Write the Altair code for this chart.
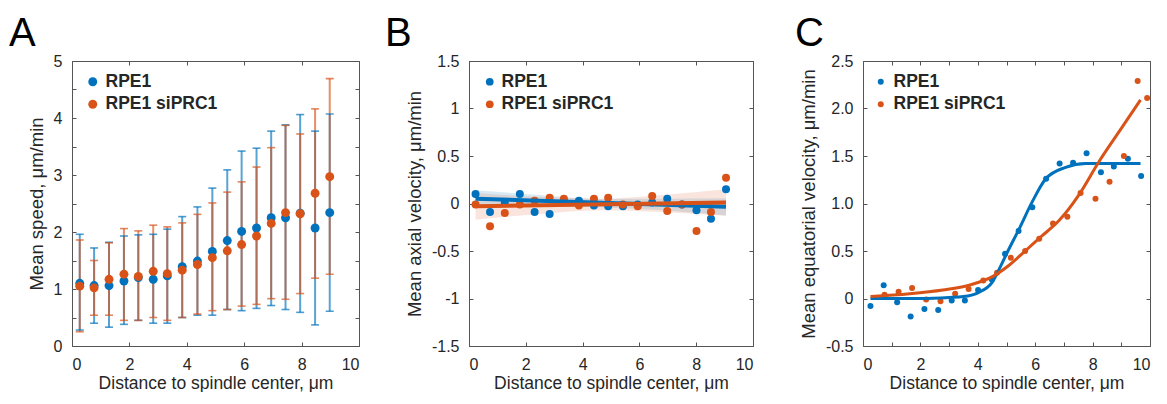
import altair as alt
import pandas as pd

SERIES = ["RPE1", "RPE1 siPRC1"]
COLORS = ["#0072BD", "#D95319"]
LETTERS = ["A", "B", "C"]
FONT = "Liberation Sans"
TXT = "#262626"
AXC = "#555555"
XTITLE = "Distance to spindle center, μm"

# ---------------- Panel A: mean speed with error bars ----------------
a_x = [0.27, 0.77, 1.29, 1.81, 2.31, 2.83, 3.32, 3.84, 4.37, 4.89, 5.41, 5.91,
       6.43, 6.94, 7.44, 7.95, 8.47, 8.98]
a_rpe1_mean = [1.10, 1.06, 1.06, 1.14, 1.20, 1.17, 1.23, 1.39, 1.49, 1.66, 1.85,
               2.01, 2.07, 2.25, 2.25, 2.33, 2.07, 2.34]
a_rpe1_lo = [0.28, 0.40, 0.33, 0.38, 0.45, 0.40, 0.40, 0.50, 0.54, 0.54, 0.64,
             0.62, 0.66, 0.71, 0.64, 0.59, 0.37, 0.61]
a_rpe1_hi = [1.96, 1.72, 1.82, 1.93, 1.95, 1.96, 2.05, 2.27, 2.44, 2.77, 3.09,
             3.42, 3.47, 3.77, 3.88, 4.06, 3.77, 4.07]
a_si_mean = [1.05, 1.02, 1.17, 1.26, 1.22, 1.31, 1.27, 1.33, 1.43, 1.55, 1.67,
             1.78, 1.93, 2.15, 2.34, 2.32, 2.68, 2.97]
a_si_lo = [0.25, 0.54, 0.54, 0.45, 0.45, 0.50, 0.45, 0.50, 0.56, 0.62, 0.64,
           0.70, 0.73, 0.83, 0.82, 0.92, 1.19, 1.26]
a_si_hi = [1.86, 1.50, 1.81, 2.06, 2.02, 2.12, 2.09, 2.16, 2.31, 2.51, 2.70,
           2.88, 3.14, 3.48, 3.87, 3.72, 4.16, 4.69]

# ---------------- Panel B: axial velocity ----------------
b_x = [0.23, 0.74, 1.26, 1.79, 2.31, 2.84, 3.34, 3.87, 4.40, 4.90, 5.42, 5.94,
       6.45, 6.98, 7.50, 8.01, 8.52, 9.05]
b_rpe1 = [0.10, -0.09, 0.01, 0.10, -0.09, -0.11, 0.03, 0.03, -0.02, -0.03, -0.03,
          -0.01, 0.01, 0.05, -0.01, -0.07, -0.16, 0.15]
b_si = [-0.01, -0.24, -0.10, -0.01, 0.03, 0.06, 0.05, -0.02, 0.05, 0.06, -0.01,
        -0.03, 0.08, -0.08, -0.01, -0.29, -0.09, 0.27]
b_fit_x = [0.23, 9.05]
b_fit_rpe1 = [0.05, -0.035]
b_fit_si = [-0.03, 0.01]
b_band_x = [0.23, 2.5, 4.6, 6.8, 9.05]
b_band_rpe1_lo = [-0.04, -0.03, -0.04, -0.07, -0.125]
b_band_rpe1_hi = [0.14, 0.09, 0.05, 0.05, 0.055]
b_band_si_lo = [-0.17, -0.11, -0.07, -0.09, -0.13]
b_band_si_hi = [0.11, 0.07, 0.05, 0.09, 0.15]

# ---------------- Panel C: equatorial velocity ----------------
c_rpe1_x = [0.26, 0.72, 1.19, 1.66, 2.14, 2.62, 3.09, 3.55, 4.01, 4.49, 4.95,
            5.42, 5.90, 6.38, 6.85, 7.32, 7.79, 8.29, 8.74, 9.23, 9.69]
c_rpe1_y = [-0.08, 0.14, -0.04, -0.19, -0.11, -0.12, -0.02, -0.02, 0.09, 0.20, 0.47,
            0.71, 0.96, 1.26, 1.42, 1.43, 1.53, 1.33, 1.39, 1.47, 1.29]
c_si_x = [0.75, 1.24, 1.71, 2.20, 2.70, 3.21, 3.68, 4.19, 4.67, 5.15, 5.65, 6.14,
          6.62, 7.12, 7.58, 8.10, 8.59, 9.09, 9.57, 9.90]
c_si_y = [0.04, 0.07, 0.11, -0.01, -0.03, 0.05, 0.10, 0.19, 0.27, 0.43, 0.50, 0.63,
          0.79, 0.86, 1.11, 1.05, 1.23, 1.50, 2.29, 2.11]
c_fit_rpe1_x = [0.26, 1.0, 2.0, 3.0, 3.5, 4.0, 4.5, 4.86, 5.05, 5.42, 5.90, 6.37,
                7.06, 7.76, 8.5, 9.67]
c_fit_rpe1_y = [0.0, 0.0, 0.0, 0.01, 0.02, 0.06, 0.17, 0.38, 0.50, 0.72, 1.02, 1.26,
                1.38, 1.42, 1.42, 1.42]
c_fit_si_x = [0.26, 1.62, 2.78, 3.70, 4.51, 5.09, 5.65, 6.20, 6.83, 7.50, 8.22,
              9.00, 9.67]
c_fit_si_y = [0.02, 0.05, 0.09, 0.14, 0.23, 0.35, 0.50, 0.65, 0.82, 1.08, 1.44,
              1.79, 2.09]


def two(xa, ya, xb, yb, **extra):
    rows = []
    for s, xs, ys in ((SERIES[0], xa, ya), (SERIES[1], xb, yb)):
        for i, (x, y) in enumerate(zip(xs, ys)):
            r = {"series": s, "x": x, "y": y}
            for k, (va, vb) in extra.items():
                r[k] = (va if s == SERIES[0] else vb)[i]
            rows.append(r)
    return pd.DataFrame(rows)


def leg(x, y, size, off):
    return alt.Legend(orient="none", legendX=x, legendY=y, title=None,
                      symbolType="circle", symbolSize=size, symbolStrokeWidth=0,
                      symbolOpacity=1,
                      labelFontSize=17.5, labelFontWeight="bold", labelFont=FONT,
                      labelColor=TXT, labelOffset=off, rowPadding=3.5, padding=0)


def make_color(legend):
    return alt.Color("series:N", scale=alt.Scale(domain=SERIES, range=COLORS),
                     legend=legend)


def axis(orient, values, title=None, labels=True, labelExpr=None, tp=7):
    kw = dict(orient=orient, values=values, domain=False, grid=False, offset=-4,
              tickSize=4, tickColor=AXC, tickWidth=1, labels=labels, title=title,
              labelPadding=10, titlePadding=tp)
    if labelExpr:
        kw["labelExpr"] = labelExpr
    if orient == "left":
        kw["titleFontSize"] = 18.5
    return alt.Axis(**kw)


def frame(df, xdom, ydom, xvals, yvals):
    return alt.Chart(df).mark_point(opacity=0).encode(
        x=alt.X("x:Q", scale=alt.Scale(domain=xdom),
                axis=axis("top", xvals, labels=False)),
        y=alt.Y("y:Q", scale=alt.Scale(domain=ydom),
                axis=axis("right", yvals, labels=False)),
    )


def letter(ch, dx):
    return alt.Chart(pd.DataFrame({"t": [ch]})).mark_text(
        font=FONT, fontSize=40, align="left", baseline="alphabetic", color="black"
    ).encode(text="t:N", x=alt.value(dx), y=alt.value(-15.5))


W, H = 287, 285
xticks2 = [0, 2, 4, 6, 8, 10]

# ---- Panel A
dfa = two(a_x, a_rpe1_mean, a_x, a_si_mean,
          lo=(a_rpe1_lo, a_si_lo), hi=(a_rpe1_hi, a_si_hi))
ya_vals = [i * 0.5 for i in range(11)]
xA = alt.Scale(domain=[0, 10])
yA = alt.Scale(domain=[0, 5])
colA = make_color(leg(12, 12, 80, 4))
a_rules = alt.Chart(dfa).mark_rule(strokeWidth=2, opacity=0.65).encode(
    x=alt.X("x:Q", scale=xA, axis=None),
    y=alt.Y("lo:Q", scale=yA, axis=None), y2="hi:Q", color=colA)
a_cap_lo = alt.Chart(dfa).mark_tick(orient="horizontal", size=8, thickness=1.6,
                                     opacity=0.7).encode(
    x=alt.X("x:Q", scale=xA, axis=None), y=alt.Y("lo:Q", scale=yA, axis=None),
    color=colA)
a_cap_hi = alt.Chart(dfa).mark_tick(orient="horizontal", size=8, thickness=1.6,
                                     opacity=0.7).encode(
    x=alt.X("x:Q", scale=xA, axis=None), y=alt.Y("hi:Q", scale=yA, axis=None),
    color=colA)
a_pts = alt.Chart(dfa).mark_circle(size=80, opacity=1).encode(
    x=alt.X("x:Q", scale=xA, axis=axis("bottom", xticks2, title=XTITLE, tp=2)),
    y=alt.Y("y:Q", scale=yA,
            axis=axis("left", ya_vals, title="Mean speed, μm/min",
                      labelExpr="datum.value % 1 == 0 ? toString(datum.value) : ''")),
    color=colA)
panelA = alt.layer(
    frame(dfa, [0, 10], [0, 5], xticks2, ya_vals),
    a_rules, a_cap_lo, a_cap_hi, a_pts, letter(LETTERS[0], -63)
).resolve_axis(x="independent", y="independent").properties(width=W, height=H)

# ---- Panel B
dfb = two(b_x, b_rpe1, b_x, b_si)
dfb_fit = two(b_fit_x, b_fit_rpe1, b_fit_x, b_fit_si)
dfb_band = two(b_band_x, b_band_rpe1_lo, b_band_x, b_band_si_lo,
               hi=(b_band_rpe1_hi, b_band_si_hi))
yb_vals = [-1.5, -1, -0.5, 0, 0.5, 1, 1.5]
xB = alt.Scale(domain=[0, 10])
yB = alt.Scale(domain=[-1.5, 1.5])
colB = make_color(leg(12, 12, 60, 3))
b_band = alt.Chart(dfb_band).mark_area(opacity=0.15, interpolate="monotone").encode(
    x=alt.X("x:Q", scale=xB, axis=None), y=alt.Y("y:Q", scale=yB, axis=None),
    y2="hi:Q", color=colB)
b_pts = alt.Chart(dfb).mark_circle(size=64, opacity=1).encode(
    x=alt.X("x:Q", scale=xB, axis=axis("bottom", xticks2, title=XTITLE, tp=2)),
    y=alt.Y("y:Q", scale=yB,
            axis=axis("left", yb_vals, title="Mean axial velocity, μm/min",
                      labelExpr="toString(datum.value)")),
    color=colB)
b_line = alt.Chart(dfb_fit).mark_line(strokeWidth=4).encode(
    x=alt.X("x:Q", scale=xB, axis=None), y=alt.Y("y:Q", scale=yB, axis=None),
    color=colB)
panelB = alt.layer(
    frame(dfb, [0, 10], [-1.5, 1.5], xticks2, yb_vals),
    b_band, b_pts, b_line, letter(LETTERS[1], -84)
).resolve_axis(x="independent", y="independent").properties(width=284, height=H)

# ---- Panel C
dfc = two(c_rpe1_x, c_rpe1_y, c_si_x, c_si_y)
dfc_fit = two(c_fit_rpe1_x, c_fit_rpe1_y, c_fit_si_x, c_fit_si_y)
yc_vals = [-0.5, 0, 0.5, 1, 1.5, 2, 2.5]
xc_vals = list(range(11))
xC = alt.Scale(domain=[0, 10])
yC = alt.Scale(domain=[-0.5, 2.5])
colC = make_color(leg(9, 12, 36, 4))
c_pts = alt.Chart(dfc).mark_circle(size=36, opacity=1).encode(
    x=alt.X("x:Q", scale=xC,
            axis=axis("bottom", xc_vals, title=XTITLE, tp=2,
                      labelExpr="datum.value % 2 == 0 ? toString(datum.value) : ''")),
    y=alt.Y("y:Q", scale=yC,
            axis=axis("left", yc_vals, title="Mean equatorial velocity, μm/min",
                      labelExpr="datum.value == 0 ? '0' : replace(format(datum.value, '.1f'), '\u2212', '-')")),
    color=colC)
c_line = alt.Chart(dfc_fit).mark_line(strokeWidth=3, interpolate="monotone").encode(
    x=alt.X("x:Q", scale=xC, axis=None), y=alt.Y("y:Q", scale=yC, axis=None),
    color=colC)
panelC = alt.layer(
    frame(dfc, [0, 10], [-0.5, 2.5], xc_vals, yc_vals),
    c_pts, c_line, letter(LETTERS[2], -68)
).resolve_axis(x="independent", y="independent").properties(width=W, height=H)

chart = alt.hconcat(panelA, panelB, panelC, spacing=110, bounds="flush").resolve_scale(
    color="independent"
).properties(
    padding={"left": 0, "top": 5, "right": 0, "bottom": 0}
).configure(
    font=FONT
).configure_view(
    stroke=AXC, strokeWidth=1
).configure_axis(
    labelFont=FONT, labelFontSize=16, labelColor=TXT,
    titleFont=FONT, titleFontSize=17.5, titleFontWeight="normal", titleColor=TXT
)

chart.save("out.html", embed_options={"renderer": "svg", "actions": False})
